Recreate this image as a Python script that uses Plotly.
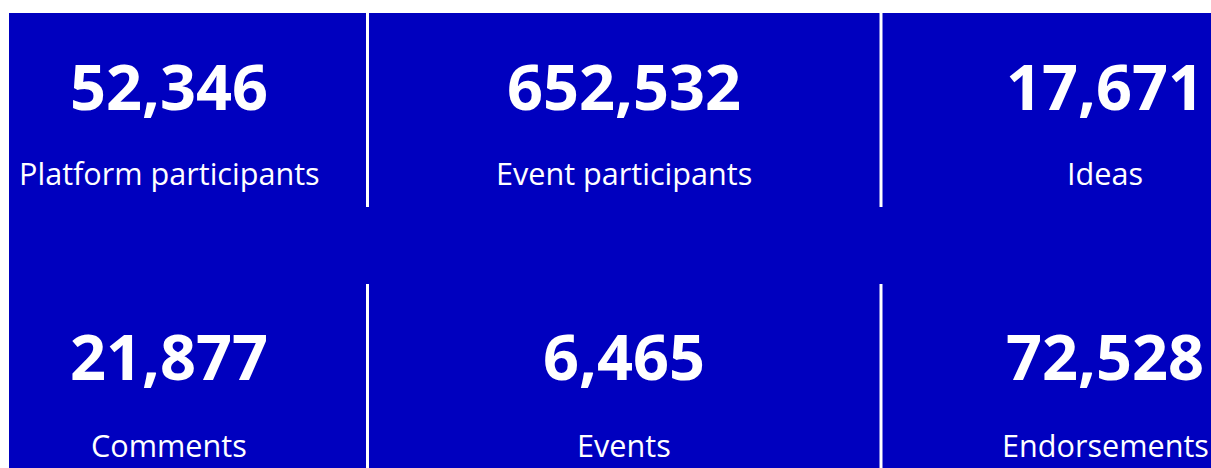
import plotly.graph_objects as go

# ---- data ----
labels = ["Platform participants", "Event participants", "Ideas",
          "Comments", "Events", "Endorsements"]
values = [52346, 652532, 17671, 21877, 6465, 72528]

# ---- layout (figure pixel positions) ----
W, H = 1211, 468
BLUE = "rgb(0,0,191)"
col_centers = [169, 624, 1105]
col_half = [160, 170, 106]
num_center_y = [85, 355]
label_center_y = [173, 445]

def px(x):
    return x / W

def py(y):
    return 1 - y / H

fig = go.Figure()
for i, (lab, val) in enumerate(zip(labels, values)):
    r, c = divmod(i, 3)
    cx, hw = col_centers[c], col_half[c]
    cy = num_center_y[r]
    fig.add_trace(go.Indicator(
        mode="number",
        value=val,
        number=dict(valueformat=",",
                    font=dict(family="Open Sans", size=63, color="white", weight="bold")),
        domain=dict(x=[max(0, px(cx - hw)), min(1, px(cx + hw))],
                    y=[py(cy + 60), py(cy - 60)]),
    ))
    fig.add_annotation(
        x=px(cx), y=py(label_center_y[r]), xref="paper", yref="paper",
        text=lab, showarrow=False, xanchor="center", yanchor="middle",
        font=dict(family="Open Sans", size=30.6, color="white"),
    )

shapes = [dict(type="rect", xref="paper", yref="paper", x0=px(9), x1=1, y0=0, y1=py(13),
               fillcolor=BLUE, line=dict(width=0), layer="below")]
for xl in [367.5, 881]:
    for (y0, y1) in [(13, 207), (284, 468)]:
        shapes.append(dict(type="line", xref="paper", yref="paper",
                           x0=px(xl), x1=px(xl), y0=py(y0), y1=py(y1),
                           line=dict(color="white", width=3), layer="below"))

fig.update_layout(
    width=W, height=H,
    margin=dict(l=0, r=0, t=0, b=0),
    paper_bgcolor="white",
    plot_bgcolor="white",
    shapes=shapes,
)
fig.write_html(
    "out.html",
    config={"displayModeBar": False},
    post_script="document.body.style.margin='0';"
                "document.documentElement.style.overflow='hidden';"
                "document.body.style.overflow='hidden';",
)
